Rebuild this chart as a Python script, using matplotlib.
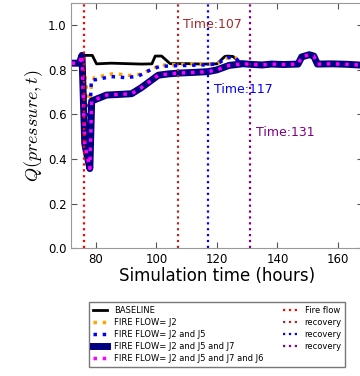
import matplotlib
matplotlib.use("Agg")
import matplotlib.pyplot as plt
import numpy as np

plt.rcParams['mathtext.fontset'] = 'cm'

# ---- data ----
tail_t = [128, 132, 135, 138, 142, 146.8, 148, 150.5, 152, 153.2, 158, 163, 168]
tail_v = [0.828, 0.824, 0.822, 0.826, 0.824, 0.826, 0.858, 0.868, 0.862, 0.826, 0.827, 0.825, 0.821]

base_t = [72, 74.5, 75.3, 78.8, 80.2, 85, 90, 95, 98.5, 99.6, 101.7, 104.5, 110, 115, 120,
          122.6, 123.5, 125.3, 127.8]
base_v = [0.83, 0.83, 0.865, 0.865, 0.827, 0.83, 0.828, 0.826, 0.827, 0.862, 0.862, 0.828,
          0.828, 0.826, 0.827, 0.86, 0.862, 0.86, 0.83]

j2_t = [72, 74.5, 75.3, 76.3, 77.7, 78.6, 79.5, 82, 85.7, 88, 91, 94.5, 98, 101, 104, 107,
        112, 117, 120, 123.6, 126, 127.8]
j2_v = [0.83, 0.83, 0.865, 0.78, 0.62, 0.74, 0.765, 0.772, 0.783, 0.78, 0.775, 0.78, 0.80,
        0.82, 0.822, 0.823, 0.827, 0.826, 0.827, 0.855, 0.855, 0.83]

j25_t = [72, 74.5, 75.3, 76.3, 77.7, 78.5, 80, 85, 90, 94, 98, 101, 105, 110, 117, 120,
         123.6, 126, 127.8]
j25_v = [0.83, 0.83, 0.865, 0.70, 0.50, 0.755, 0.756, 0.77, 0.765, 0.772, 0.80, 0.815,
         0.818, 0.82, 0.823, 0.827, 0.855, 0.855, 0.83]

j257_t = [72, 74.5, 75.4, 76.3, 77, 78, 78.6, 80, 83.5, 88, 91.8, 95, 98, 100.6, 104, 108,
          113, 117, 120, 124, 127.8]
j257_v = [0.83, 0.83, 0.865, 0.47, 0.42, 0.357, 0.66, 0.668, 0.687, 0.69, 0.693, 0.72, 0.75,
          0.776, 0.782, 0.786, 0.789, 0.792, 0.80, 0.82, 0.826]

j2576_t = j257_t
j2576_v = j257_v

vline_times = [76, 107, 117, 131]
vline_labels = ['Fire flow', 'recovery', 'recovery', 'recovery']
vline_colors = ['red', 'brown', 'blue', 'purple']
time_text = ['Time:107', 'Time:117', 'Time:131']
time_text_x = [108.9, 119.1, 132.9]
time_text_y = [1.005, 0.713, 0.52]
time_text_c = ['brown', 'blue', 'purple']

# ---- plot ----
fig = plt.figure(figsize=(3.6, 3.76), dpi=100)
ax = fig.add_axes([0.197, 0.340, 0.81, 0.652])

ax.plot(base_t + tail_t, base_v + tail_v, color='black', lw=2, label='BASELINE')
ax.plot(j2_t + tail_t, j2_v + tail_v, color='orange', lw=2.5, ls=':', label='FIRE FLOW= J2')
ax.plot(j25_t + tail_t, j25_v + tail_v, color='blue', lw=2.5, ls=':', label='FIRE FLOW= J2 and J5')
ax.plot(j257_t + tail_t, j257_v + tail_v, color='navy', lw=5, label='FIRE FLOW= J2 and J5 and J7')
ax.plot(j2576_t + tail_t, j2576_v + tail_v, color='magenta', lw=2.5, ls=':',
        label='FIRE FLOW= J2 and J5 and J7 and J6')

for t, lab, c in zip(vline_times, vline_labels, vline_colors):
    ax.axvline(t, color=c, ls=':', lw=1.6, label=lab)

for s, x, y, c in zip(time_text, time_text_x, time_text_y, time_text_c):
    ax.text(x, y, s, color=c, fontsize=9, va='center', ha='left')

ax.set_xlim(71.74, 168.1)
ax.set_ylim(0, 1.1)
ax.set_xticks([80, 100, 120, 140, 160])
ax.set_yticks([0.0, 0.2, 0.4, 0.6, 0.8, 1.0])
ax.tick_params(direction='in', top=True, right=True, labelsize=8.5, color='#555555', length=4)
ax.tick_params(axis='y', pad=3)
for sp in ax.spines.values():
    sp.set_color('#999999')
ax.set_xlabel('Simulation time (hours)', fontsize=12, labelpad=1)
ax.set_ylabel('$Q(pressure, t)$', fontsize=13, labelpad=2)

fig.legend(loc='upper center', bbox_to_anchor=(0.603, 0.207), ncol=2, fontsize=6,
           columnspacing=2.3, labelspacing=0.38, handlelength=1.7, handletextpad=0.9,
           edgecolor='#777777', fancybox=False, framealpha=1)

fig.savefig('out.png', dpi=100)
